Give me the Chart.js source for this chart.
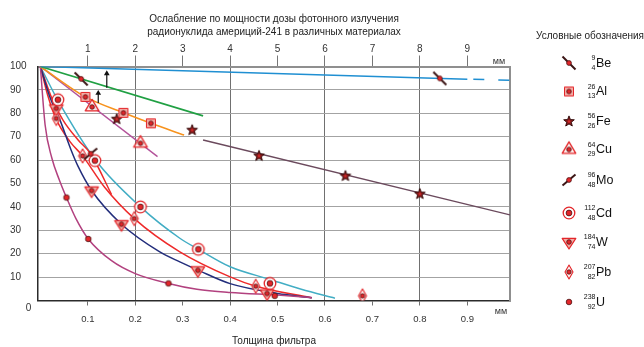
<!DOCTYPE html>
<html>
<head>
<meta charset="utf-8">
<script src="https://cdn.jsdelivr.net/npm/chart.js@4.4.1/dist/chart.umd.min.js"></script>
<style>
  html, body { margin: 0; padding: 0; background: #fff; }
</style>
</head>
<body>
<canvas id="chart" width="644" height="347"></canvas>
<script>
const FONT = "'Liberation Sans', Arial, sans-serif";

const titleLines = ['Ослабление по мощности дозы фотонного излучения', 'радионуклида америций-241 в различных материалах'];
const xTitle = 'Толщина фильтра';
const legendTitle = 'Условные обозначения';
const unitLabel = 'мм';

const xTicks = [0.1, 0.2, 0.3, 0.4, 0.5, 0.6, 0.7, 0.8, 0.9];
const mmTicks = [1, 2, 3, 4, 5, 6, 7, 8, 9];
const yTicks = [0, 10, 20, 30, 40, 50, 60, 70, 80, 90, 100];

// legend entries
const legendSymbols = ['Be', 'Al', 'Fe', 'Cu', 'Mo', 'Cd', 'W', 'Pb', 'U'];
const massNumbers = ['9', '26', '56', '64', '96', '112', '184', '207', '238'];
const atomicNumbers = ['4', '13', '26', '29', '48', '48', '74', '82', '92'];
const legendKinds = ['be', 'al', 'fe', 'cu', 'mo', 'cd', 'w', 'pb', 'u'];

// lines
const blueLineX = [0, 0.9, 0.99];
const blueLineY = [100, 94.6, 94.1];
const greenLineX = [0, 0.343];
const greenLineY = [100, 78.9];
const orangeLineX = [0, 0.095, 0.174, 0.233, 0.303];
const orangeLineY = [100, 87, 80.3, 75.7, 70.7];
const cuLineX = [0, 0.247];
const cuLineY = [100, 61.5];
const feLineX = [0.343, 0.99];
const feLineY = [68.6, 36.6];
const redLineX = [0, 0.015, 0.033, 0.062, 0.089, 0.135, 0.198, 0.294, 0.4, 0.454, 0.572];
const redLineY = [100, 88, 77.6, 68, 61.8, 48.5, 35, 20.8, 10.1, 6.1, 1.1];
const moLineX = [0, 0.025, 0.048, 0.08, 0.106, 0.15];
const moLineY = [100, 86, 77, 68.5, 62.7, 45.3];
const navyLineX = [0, 0.02, 0.041, 0.0645, 0.079, 0.108, 0.171, 0.25, 0.294, 0.332, 0.4, 0.5, 0.572];
const navyLineY = [100, 87, 77.3, 64.4, 57.5, 47, 32.6, 21, 16.5, 13, 7.2, 3.0, 1.2];
const cyanLineX = [0, 0.037, 0.117, 0.211, 0.294, 0.333, 0.4, 0.484, 0.55, 0.621];
const cyanLineY = [100, 85.5, 59.8, 40, 26.6, 21.9, 14.4, 9.0, 4.8, 1.0];
const uLineX = [0, 0.01, 0.024, 0.04, 0.055, 0.075, 0.101, 0.15, 0.2, 0.27, 0.33, 0.4, 0.5, 0.572];
const uLineY = [100, 75, 61, 51.5, 44, 35, 26.3, 17, 11.5, 7.3, 4.8, 3.4, 2.3, 1.3];

// measured points
const beX = [0.086, 0.842];
const beY = [94.7, 94.9];
const alX = [0.095, 0.175, 0.233];
const alY = [87.0, 80.2, 75.7];
const feX = [0.161, 0.320, 0.461, 0.643, 0.800];
const feY = [77.7, 73.0, 62.0, 53.4, 45.7];
const cuX = [0.109, 0.211];
const cuY = [82.7, 67.2];
const moX = [0.106];
const moY = [62.7];
const cdX = [0.037, 0.115, 0.211, 0.333, 0.484];
const cdY = [85.8, 59.8, 40.0, 21.9, 7.3];
const wX = [0.0335, 0.108, 0.171, 0.332, 0.478];
const wY = [82.1, 47.0, 32.6, 12.9, 3.0];
const pbX = [0.0335, 0.089, 0.198, 0.454, 0.679];
const pbY = [77.8, 61.8, 35.0, 6.1, 2.0];
const uX = [0.055, 0.101, 0.27, 0.494];
const uY = [44, 26.3, 7.3, 2.0];

// arrows
const arrowX = [0.140, 0.122];
const arrowFrom = [90.9, 84.4];
const arrowTo = [97.0, 88.6];

const RED = '#e3262a', DARK = '#4a1212', PINK = '#f5aaa4';

function markerCanvas(kind) {
  const c = document.createElement('canvas');
  c.width = 24; c.height = 24;
  const g = c.getContext('2d');
  g.lineJoin = 'round';
  const dot = (r) => {
    g.beginPath(); g.arc(12, 12, r, 0, Math.PI * 2);
    g.fillStyle = RED; g.fill();
    g.lineWidth = 0.8; g.strokeStyle = DARK; g.stroke();
  };
  const poly = (p, fill, stroke, lw) => {
    g.beginPath(); g.moveTo(p[0][0], p[0][1]);
    for (let i = 1; i < p.length; i++) g.lineTo(p[i][0], p[i][1]);
    g.closePath();
    if (fill) { g.fillStyle = fill; g.fill(); }
    g.lineWidth = lw; g.strokeStyle = stroke; g.stroke();
  };
  if (kind === 'be' || kind === 'mo') {
    g.strokeStyle = '#3c1616'; g.lineWidth = 2; g.beginPath();
    if (kind === 'be') { g.moveTo(5.5, 5.5); g.lineTo(18.5, 18.5); }
    else { g.moveTo(5.5, 17.5); g.lineTo(18.5, 6.5); }
    g.stroke(); dot(2.4);
  } else if (kind === 'al') {
    g.fillStyle = PINK; g.fillRect(7.5, 7.5, 9, 9);
    g.strokeStyle = RED; g.lineWidth = 1; g.strokeRect(7.5, 7.5, 9, 9);
    dot(2.3);
  } else if (kind === 'fe') {
    const p = [];
    for (let i = 0; i < 10; i++) {
      const a = -Math.PI / 2 + i * Math.PI / 5;
      const r = i % 2 ? 2.4 : 5.6;
      p.push([12 + r * Math.cos(a), 12.5 + r * Math.sin(a)]);
    }
    poly(p, '#8a1a1a', '#2a0505', 0.9);
    g.beginPath(); g.arc(12, 12.5, 1.3, 0, Math.PI * 2); g.fillStyle = '#d42a2a'; g.fill();
  } else if (kind === 'cu') {
    poly([[12, 4.4], [18.8, 15.8], [5.2, 15.8]], 'rgba(255,235,233,0.85)', RED, 1.3);
    dot(2.3);
  } else if (kind === 'w') {
    poly([[5.2, 8.4], [18.8, 8.4], [12, 19]], PINK, RED, 1.2);
    dot(2.3);
  } else if (kind === 'pb') {
    poly([[12, 5], [16, 12], [12, 19], [8, 12]], 'rgba(255,240,238,0.9)', RED, 1.1);
    dot(2.2);
  } else if (kind === 'cd') {
    g.beginPath(); g.arc(12, 12, 5.8, 0, Math.PI * 2);
    g.fillStyle = '#fff'; g.fill(); g.lineWidth = 1.3; g.strokeStyle = RED; g.stroke();
    dot(2.9);
  } else {
    dot(2.8);
  }
  return c;
}

const markers = {};
legendKinds.forEach(k => { markers[k] = markerCanvas(k); });

function pts(xs, ys) { return xs.map((x, i) => ({ x, y: ys[i] })); }

function lineSet(xs, ys, color, width, smooth, extra) {
  return Object.assign({
    data: pts(xs, ys), borderColor: color, borderWidth: width, pointRadius: 0,
    fill: false, tension: 0, cubicInterpolationMode: smooth ? 'monotone' : 'default', order: 3
  }, extra || {});
}

function markSet(xs, ys, kind) {
  return { data: pts(xs, ys), showLine: false, pointStyle: markers[kind], pointRadius: 5, order: 1 };
}

function arrowSet(i) {
  return {
    data: [{ x: arrowX[i], y: arrowFrom[i] }, { x: arrowX[i], y: arrowTo[i] }],
    borderColor: '#111', borderWidth: 1.2, pointStyle: 'triangle',
    pointRadius: [0, 3.3], pointBackgroundColor: '#111', pointBorderWidth: 0, order: 2
  };
}

const datasets = [
  lineSet(blueLineX, blueLineY, '#1f8fd2', 1.5, false, {
    segment: {
      borderDash: c => c.p0.parsed.x >= 0.89 ? [11, 14] : undefined,
      borderDashOffset: c => c.p0.parsed.x >= 0.89 ? 19 : undefined
    }
  }),
  lineSet(greenLineX, greenLineY, '#20a043', 1.6, false),
  lineSet(orangeLineX, orangeLineY, '#f7931e', 1.6, true),
  lineSet(cuLineX, cuLineY, '#b3529a', 1.4, false),
  lineSet(feLineX, feLineY, '#6b4a5d', 1.4, false),
  lineSet(uLineX, uLineY, '#b2417f', 1.5, true),
  lineSet(navyLineX, navyLineY, '#232e7c', 1.5, true),
  lineSet(moLineX, moLineY, '#ee2a2a', 1.5, true),
  lineSet(redLineX, redLineY, '#ee2a2a', 1.5, true),
  lineSet(cyanLineX, cyanLineY, '#42adc4', 1.5, true),
  arrowSet(0),
  arrowSet(1),
  markSet(beX, beY, 'be'),
  markSet(alX, alY, 'al'),
  markSet(feX, feY, 'fe'),
  markSet(cuX, cuY, 'cu'),
  markSet(moX, moY, 'mo'),
  markSet(cdX, cdY, 'cd'),
  markSet(wX, wY, 'w'),
  markSet(pbX, pbY, 'pb'),
  markSet(uX, uY, 'u')
];

const extraText = {
  id: 'extraText',
  afterDraw(chart) {
    const ctx = chart.ctx;
    const { x, y } = chart.scales;
    ctx.save();
    ctx.fillStyle = '#333';
    ctx.textBaseline = 'middle';
    ctx.textAlign = 'center';
    ctx.font = `10px ${FONT}`;
    ctx.fillText('0', x.left - 9.5, y.getPixelForValue(0) + 7.5);
    ctx.font = `9px ${FONT}`;
    ctx.fillText(unitLabel, x.right - 11, y.top - 5);
    ctx.fillText(unitLabel, x.right - 9, y.bottom + 11.5);

    // legend
    ctx.fillStyle = '#222';
    ctx.font = `10px ${FONT}`;
    ctx.fillText(legendTitle, 590, 36);
    const rows = [63, 91.5, 121, 149.5, 180, 213, 242, 272, 302];
    legendKinds.forEach((k, i) => {
      const cy = rows[i];
      ctx.drawImage(markers[k], 569 - 12, cy - 12);
      ctx.fillStyle = '#111';
      ctx.textAlign = 'left';
      ctx.font = `12.5px ${FONT}`;
      ctx.fillText(legendSymbols[i], 596, cy + 0.5);
      ctx.textAlign = 'right';
      ctx.font = `7px ${FONT}`;
      ctx.fillText(massNumbers[i], 595.5, cy - 4.5);
      ctx.fillText(atomicNumbers[i], 595.5, cy + 5);
    });
    ctx.restore();
  }
};

Chart.defaults.font.family = FONT;

new Chart(document.getElementById('chart'), {
  type: 'line',
  data: { datasets },
  options: {
    responsive: false,
    animation: false,
    devicePixelRatio: 1,
    layout: { padding: { left: 10, right: 134, top: 0, bottom: 0 } },
    plugins: {
      legend: { display: false },
      tooltip: { enabled: false },
      title: {
        display: true, text: titleLines, fullSize: false, color: '#222',
        font: { family: FONT, size: 10, weight: 'normal', lineHeight: 1.25 },
        padding: { top: 13, bottom: 0 }
      }
    },
    scales: {
      x: {
        type: 'linear', axis: 'x', position: 'bottom', min: -0.005, max: 0.99,
        afterBuildTicks: s => { s.ticks = xTicks.map(v => ({ value: v })); },
        afterFit: s => { s.height = 46.5; },
        ticks: {
          font: { size: 9.5 }, color: '#333', padding: 8, maxRotation: 0, autoSkip: false,
          callback: v => v.toFixed(1)
        },
        grid: {
          color: c => (c.tick && Math.round(c.tick.value * 10) % 2 === 0) ? '#707070' : 'rgba(0,0,0,0)',
          tickColor: '#707070', tickLength: 5, lineWidth: 1
        },
        border: { color: '#2b2b2b', width: 1.5 },
        title: { display: true, text: xTitle, color: '#222', font: { size: 10 }, padding: 0 }
      },
      x2: {
        type: 'linear', axis: 'x', position: 'top', min: -0.05, max: 9.9,
        afterBuildTicks: s => { s.ticks = mmTicks.map(v => ({ value: v })); },
        afterFit: s => { s.height = 28.5; },
        ticks: { font: { size: 10 }, color: '#333', padding: 0, maxRotation: 0, autoSkip: false },
        grid: { drawOnChartArea: false, color: '#777', tickLength: 11 },
        border: { color: '#8f8f8f', width: 2 }
      },
      y: {
        type: 'linear', axis: 'y', position: 'left', min: 0, max: 100,
        afterBuildTicks: s => { s.ticks = yTicks.map(v => ({ value: v })); },
        afterFit: s => { s.width = 28; },
        ticks: { font: { size: 10 }, color: '#333', crossAlign: 'far', callback: v => v === 0 ? '' : String(v) },
        grid: {
          color: c => (c.tick && (c.tick.value === 0 || c.tick.value === 100)) ? 'rgba(0,0,0,0)' : '#a3a3a3',
          drawTicks: false
        },
        border: { color: '#2b2b2b', width: 1.5 }
      },
      y2: {
        type: 'linear', axis: 'y', position: 'right', min: 0, max: 100,
        afterFit: s => { s.width = 0; },
        ticks: { display: false },
        grid: { drawOnChartArea: false, drawTicks: false },
        border: { color: '#8f8f8f', width: 2 }
      }
    }
  },
  plugins: [extraText]
});
</script>
</body>
</html>
